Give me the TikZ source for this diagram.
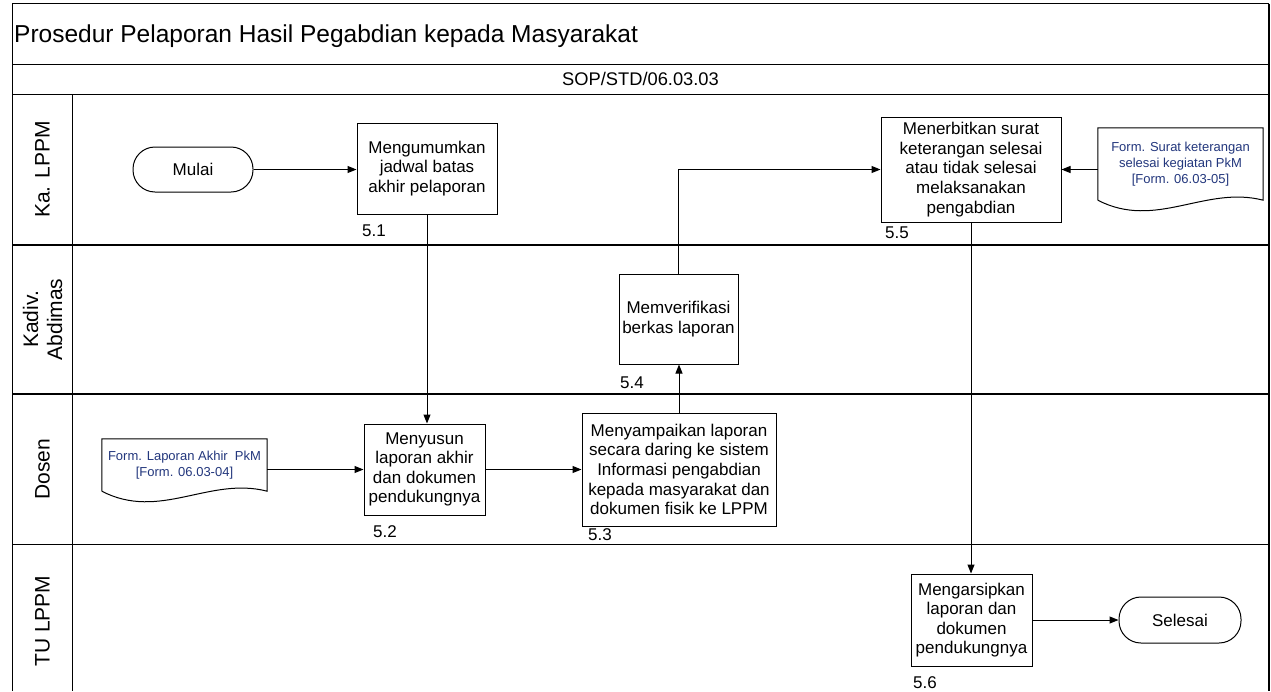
\documentclass[tikz,border=0pt]{standalone}
\usepackage{fontspec}
\setmainfont{Liberation Sans}
\usetikzlibrary{arrows.meta,calc}
\definecolor{formblue}{RGB}{35,55,125}
\begin{document}
\begin{tikzpicture}[x=1pt,y=-1pt,
  proc/.style={draw, line width=1pt, align=center, inner sep=1pt, font=\fontsize{17}{19.6}\selectfont},
  term/.style={draw, line width=1pt, rounded corners=22pt, inner sep=0pt, font=\fontsize{17}{20}\selectfont},
  docbox/.style={align=center, inner sep=0pt, text=formblue, font=\fontsize{13}{16}\selectfont},
  docline/.style={line width=1pt},
  num/.style={anchor=base west, inner sep=0pt, font=\fontsize{17}{20}\selectfont},
  lanelabel/.style={rotate=90, align=center, font=\fontsize{21}{24}\selectfont},
  flow/.style={line width=1pt, -{Triangle[length=9pt,width=7pt]}},
  frame/.style={line width=1pt},
  lanerule/.style={line width=1.6pt},
]
\useasboundingbox (0,0) rectangle (1271,691);
\fill[white] (0,0) rectangle (1271,691);

% frame
\draw[frame] (12.5,691) -- (12.5,3.5) -- (1269,3.5);
\draw[line width=2pt] (1269,3.5) -- (1269,691);
\draw[frame] (12.5,64) -- (1269,64);
\draw[lanerule] (12.5,94.3) -- (1269,94.3);
\draw[lanerule] (12.5,245) -- (1269,245);
\draw[lanerule] (12.5,394) -- (1269,394);
\draw[lanerule] (12.5,544.5) -- (1269,544.5);
\draw[frame] (72.5,94.3) -- (72.5,691);

% headings
\node[anchor=base west, inner sep=0pt, font=\fontsize{24.5}{28}\selectfont] (title) at (14,42) {Prosedur Pelaporan Hasil Pegabdian kepada Masyarakat};
\node[font=\fontsize{18.3}{21}\selectfont] (sop) at (640.5,79) {SOP/STD/06.03.03};

% lane labels
\node[lanelabel] (lane1) at (42.5,169.5) {Ka. LPPM};
\node[lanelabel] (lane2) at (42.5,319.5) {Kadiv.\\Abdimas};
\node[lanelabel] (lane3) at (42.5,469) {Dosen};
\node[lanelabel] (lane4) at (42.5,621) {TU LPPM};

% terminals
\node[term, minimum width=120pt, minimum height=45pt] (start) at (193,169.5) {Mulai};
\node[term, minimum width=122pt, minimum height=46pt] (stop) at (1180,620) {Selesai};

% processes
\node[proc, minimum width=140pt, minimum height=91pt] (p51) at (427,168.5) {Mengumumkan\\jadwal batas\\akhir pelaporan};
\node[proc, minimum width=121pt, minimum height=91pt] (p52) at (424.5,469.5) {Menyusun\\laporan akhir\\dan dokumen\\pendukungnya};
\node[proc, minimum width=194pt, minimum height=113pt] (p53) at (679,469.5) {Menyampaikan laporan\\secara daring ke sistem\\Informasi pengabdian\\kepada masyarakat dan\\dokumen fisik ke LPPM};
\node[proc, minimum width=119pt, minimum height=90pt] (p54) at (678.5,319) {Memverifikasi\\berkas laporan};
\node[proc, minimum width=180pt, minimum height=105pt] (p55) at (971,169.5) {Menerbitkan surat\\keterangan selesai\\atau tidak selesai\\melaksanakan\\pengabdian};
\node[proc, minimum width=121pt, minimum height=92pt] (p56) at (971.5,620) {Mengarsipkan\\laporan dan\\dokumen\\pendukungnya};

% step numbers
\node[num] (n51) at (362,236) {5.1};
\node[num] (n52) at (373,537) {5.2};
\node[num] (n53) at (588,540) {5.3};
\node[num] (n54) at (620,388) {5.4};
\node[num] (n55) at (885,238) {5.5};
\node[num] (n56) at (913,688) {5.6};

% documents
\node[docbox, minimum width=165pt, minimum height=52pt] (d1) at (184.5,465) {Form. Laporan Akhir\ \ PkM\\{}[Form. 06.03-04]};
\draw[docline] (d1.south west) -- (d1.north west) -- (d1.north east) -- (d1.south east)
  .. controls +(-58,-15) and +(58,30) .. (d1.south west);
\node[docbox, minimum width=165pt, minimum height=72pt] (d2) at (1180.5,164) {Form. Surat keterangan\\selesai kegiatan PkM\\{}[Form. 06.03-05]};
\draw[docline] (d2.south west) -- (d2.north west) -- (d2.north east) -- (d2.south east)
  .. controls +(-58,-15) and +(58,30) .. (d2.south west);

% connectors
\draw[flow] (start.east) -- (start.east -| p51.west);
\draw[flow] (p51.south) -- (p51.south |- p52.north);
\draw[flow] (d1.east |- p52.west) -- (p52.west);
\draw[flow] (p52.east) -- (p52.east -| p53.west);
\draw[flow] (p53.north) -- (p53.north |- p54.south);
\draw[flow] (p54.north) |- (p55.west);
\draw[flow] (d2.west |- p55.east) -- (p55.east);
\draw[flow] (p55.south) -- (p55.south |- p56.north);
\draw[flow] (p56.east) -- (p56.east -| stop.west);
\end{tikzpicture}
\end{document}
